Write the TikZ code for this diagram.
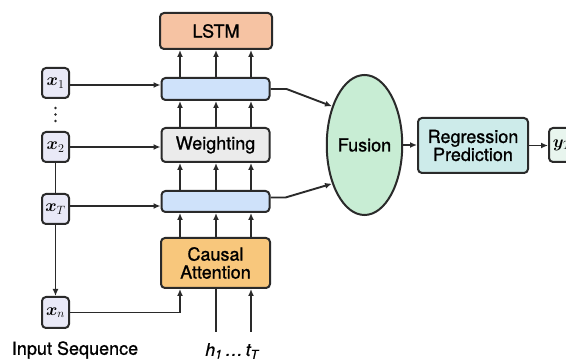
\documentclass[tikz,border=0pt]{standalone}
\usepackage{fontspec}
\setmainfont{TeX Gyre Heros}[FakeBold=0.8]
\newfontfamily\labelfont{TeX Gyre Heros}[FakeBold=1.0]
\usepackage{bm}
\usetikzlibrary{arrows.meta,shapes.geometric}

\definecolor{edge}{HTML}{2A2A2A}
\definecolor{lstmfill}{HTML}{F6C3A3}
\definecolor{barfill}{HTML}{CFE2FA}
\definecolor{weightfill}{HTML}{EBEBEB}
\definecolor{causalfill}{HTML}{F8C77C}
\definecolor{inputfill}{HTML}{E9E9F7}
\definecolor{fusionfill}{HTML}{C8EDD4}
\definecolor{regfill}{HTML}{CDEBEA}
\definecolor{outfill}{HTML}{E8F5EE}

\tikzset{
  block/.style={draw=edge, line width=2pt, rounded corners=4pt, inner sep=0pt,
    align=center, font=\labelfont\fontsize{18}{20}\selectfont},
  inbox/.style={block, fill=inputfill, minimum width=27pt, minimum height=30pt,
    font=\fontsize{17}{19}\selectfont},
  link/.style={draw=edge, line width=1.9pt},
  arr/.style={link, -{Latex[length=7pt,width=6pt]}},
  caption/.style={font=\labelfont\fontsize{18}{20}\selectfont, inner sep=0pt}
}

\begin{document}
\begin{tikzpicture}[x=1pt,y=-1pt]
\useasboundingbox (0,0) rectangle (566,363);

% processing column
\node[block, fill=lstmfill, minimum width=112pt, minimum height=36pt] (lstm) at (216,31) {LSTM};
\node[block, fill=barfill, minimum width=108pt, minimum height=22pt] (topbar) at (215.5,89) {};
\node[block, fill=weightfill, minimum width=108pt, minimum height=34pt] (weight) at (215.5,145) {Weighting};
\node[block, fill=barfill, minimum width=108pt, minimum height=21pt] (botbar) at (215.5,201.5) {};
\node[block, fill=causalfill, minimum width=109pt, minimum height=50pt] (causal) at (215.5,263) {Causal\\[-2pt]Attention};

% column positions of the vertical arrows
\coordinate (c1) at (180,0);
\coordinate (c2) at (216,0);
\coordinate (c3) at (251,0);

\foreach \c in {c1,c2,c3}{
  \draw[arr] (topbar.north -| \c) -- (lstm.south -| \c);
  \draw[arr] (weight.north -| \c) -- (topbar.south -| \c);
  \draw[arr] (botbar.north -| \c) -- (weight.south -| \c);
  \draw[arr] (causal.north -| \c) -- (botbar.south -| \c);
}

% input sequence
\node[inbox] (x1) at (55.5,83) {$\bm{x}_1$};
\node[inbox] (x2) at (55.5,147) {$\bm{x}_2$};
\node[inbox] (xT) at (55.5,209) {$\bm{x}_T$};
\node[inbox, minimum height=31pt] (xn) at (55.5,312.5) {$\bm{x}_n$};
\foreach \yy in {108,114.5,121}{
  \fill[edge] (55.5,\yy) circle (1.4pt);
}
\node[caption] (inlabel) at (75,350) {Input Sequence};

\draw[link] (x2.south) -- (xT.north);
\draw[arr] (xT.south) -- (xn.north);

\draw[arr] ([yshift=-2pt]x1.east) -- ([yshift=-2pt]x1.east -| topbar.west);
\draw[arr] (x2.east) -- (x2.east -| weight.west);
\draw[arr] ([yshift=3pt]xT.east) -- ([yshift=3pt]xT.east -| botbar.west);
\draw[arr] (xn.east) -| (causal.south -| c1);

% hidden states entering the attention block
\coordinate (hin) at (216,332);
\coordinate (tin) at (251,332);
\draw[link] (hin) -- (causal.south -| hin);
\draw[arr] (tin) -- (causal.south -| tin);
\node[caption, font=\labelfont\fontsize{17.5}{19}\selectfont\itshape] (hlabel) at (232,351)
  {h\textsubscript{1}\,\dots\,t\textsubscript{T}};

% fusion and prediction
\node[ellipse, draw=edge, line width=2pt, fill=fusionfill, minimum width=61pt,
  minimum height=140pt, inner sep=0pt, font=\labelfont\fontsize{18}{20}\selectfont] (fusion) at (364.5,145) {Fusion};
\node[block, fill=regfill, minimum width=110pt, minimum height=55pt] (reg) at (473,145.5) {Regression\\[-2pt]Prediction};
\node[inbox, fill=outfill, minimum height=34pt] (yT) at (562.5,145) {$\bm{y}_T$};

\draw[arr] (topbar.east) -- ++(16,0) -- (fusion.130);
\draw[arr] ([yshift=4pt]botbar.east) -- ++(15,0) -- (fusion.230);
\draw[arr] (fusion.east) -- (fusion.east -| reg.west);
\draw[arr] (reg.east) -- (reg.east -| yT.west);
\end{tikzpicture}
\end{document}
